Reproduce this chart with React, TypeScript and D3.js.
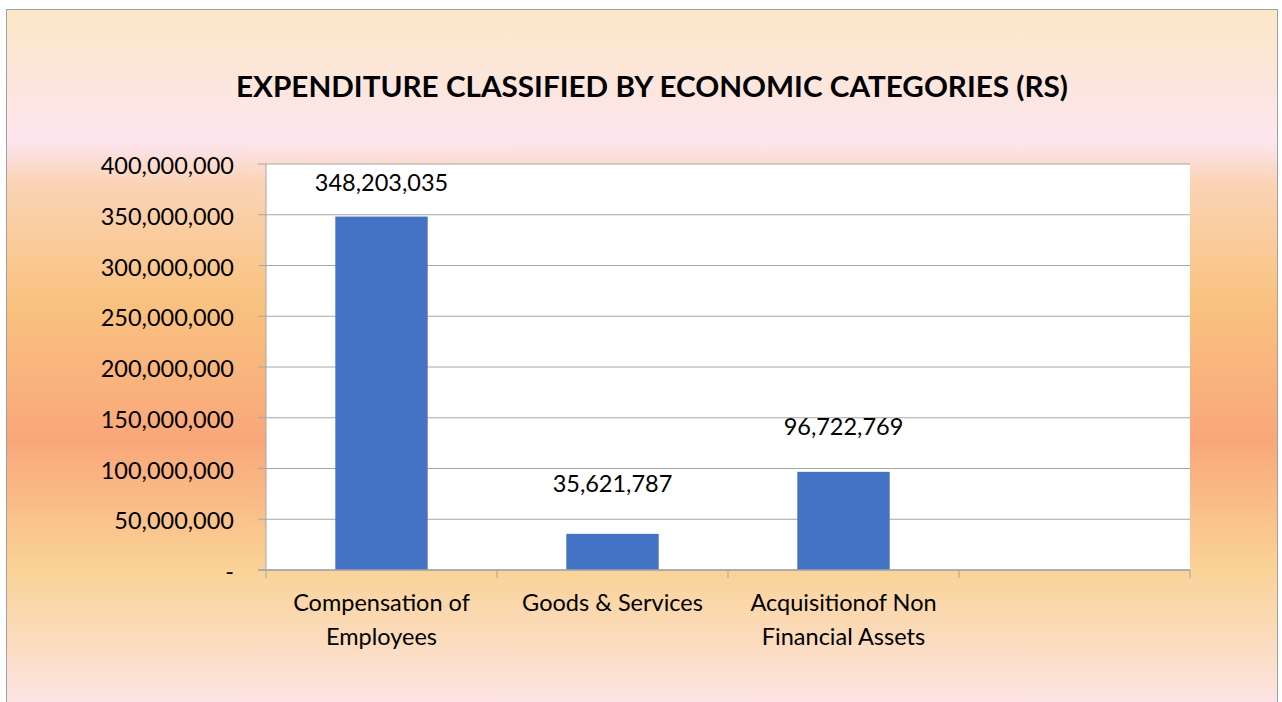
import React from "react";
import * as d3 from "d3";

const categories: string[][] = [
  ["Compensation of", "Employees"],
  ["Goods & Services"],
  ["Acquisitionof Non", "Financial Assets"],
  [""],
];
const values: (number | null)[] = [348203035, 35621787, 96722769, null];
const yTicks: number[] = [0, 50000000, 100000000, 150000000, 200000000, 250000000, 300000000, 350000000, 400000000];
const title = "EXPENDITURE CLASSIFIED BY ECONOMIC CATEGORIES (RS)";

// label distance above bar top (px), as placed in the original
const labelGap = [26, 42, 37, 0];

const W = 1282;
const H = 702;
const plot = { left: 266, right: 1190, top: 164, bottom: 570 };
const FONT = "Lato, 'Open Sans', sans-serif";
const GRID = "#a6a6a6";
const FS = 23.5;

export default function App() {
  const x = d3
    .scaleBand<number>()
    .domain(categories.map((_, i) => i))
    .range([plot.left, plot.right])
    .paddingInner(0.6)
    .paddingOuter(0.3);
  const band = d3.scaleBand<number>().domain(categories.map((_, i) => i)).range([plot.left, plot.right]);
  const y = d3.scaleLinear().domain([0, 400000000]).range([plot.bottom, plot.top]);
  const fmt = d3.format(",");

  const boundaries = categories.map((_, i) => band(i)!).concat([plot.right]);

  return (
    <svg width={W} height={H} style={{ position: "absolute", left: 0, top: 0 }} fontFamily={FONT}>
      <defs>
        <linearGradient id="bg" gradientUnits="userSpaceOnUse" x1="0" y1="9" x2="0" y2="705">
          <stop offset="0" stopColor="#fbe8c6" />
          <stop offset="0.19" stopColor="#fde5ef" />
          <stop offset="0.25" stopColor="#fbd4b6" />
          <stop offset="0.42" stopColor="#f9c27f" />
          <stop offset="0.62" stopColor="#f9a77a" />
          <stop offset="0.80" stopColor="#fad296" />
          <stop offset="0.90" stopColor="#fbdbbb" />
          <stop offset="1" stopColor="#fde4e6" />
        </linearGradient>
      </defs>
      <rect x={0} y={0} width={W} height={H} fill="#ffffff" />
      <rect x={6.5} y={9.5} width={1271} height={705} fill="url(#bg)" stroke="#a0a0a0" strokeWidth={1} />

      <text
        x={652}
        y={86}
        textAnchor="middle"
        dominantBaseline="central"
        fontWeight="bold"
        fontSize={28}
        fill="#000"
        textLength={832}
        lengthAdjust="spacingAndGlyphs"
      >
        {title}
      </text>

      <rect x={plot.left} y={plot.top} width={plot.right - plot.left} height={plot.bottom - plot.top} fill="#ffffff" />

      {yTicks.map((t) => (
        <g key={t}>
          <line x1={258} x2={plot.right} y1={y(t)} y2={y(t)} stroke={GRID} strokeWidth={1} />
          <text x={234} y={y(t) + 1} textAnchor="end" dominantBaseline="central" fontSize={FS} fill="#000">
            {t === 0 ? "-" : fmt(t)}
          </text>
        </g>
      ))}

      {values.map((v, i) =>
        v == null ? null : (
          <rect key={i} x={x(i)} y={y(v)} width={x.bandwidth()} height={y(0) - y(v)} fill="#4472c4" />
        )
      )}

      <line x1={plot.left} x2={plot.left} y1={plot.top} y2={plot.bottom} stroke={GRID} strokeWidth={1} />
      <line x1={258} x2={plot.right} y1={plot.bottom} y2={plot.bottom} stroke={GRID} strokeWidth={1.5} />
      {boundaries.map((b, i) => (
        <line key={i} x1={b} x2={b} y1={plot.bottom} y2={plot.bottom + 8} stroke={GRID} strokeWidth={1} />
      ))}

      {values.map((v, i) =>
        v == null ? null : (
          <text
            key={i}
            x={x(i)! + x.bandwidth() / 2}
            y={y(v) - labelGap[i]}
            textAnchor="middle"
            fontSize={FS}
            fill="#000"
          >
            {fmt(v)}
          </text>
        )
      )}

      {categories.map((lines, i) => (
        <text key={i} x={band(i)! + band.bandwidth() / 2} textAnchor="middle" fontSize={FS} fill="#000">
          {lines.map((l, j) => (
            <tspan key={j} x={band(i)! + band.bandwidth() / 2} y={611 + j * 34}>
              {l}
            </tspan>
          ))}
        </text>
      ))}
    </svg>
  );
}
